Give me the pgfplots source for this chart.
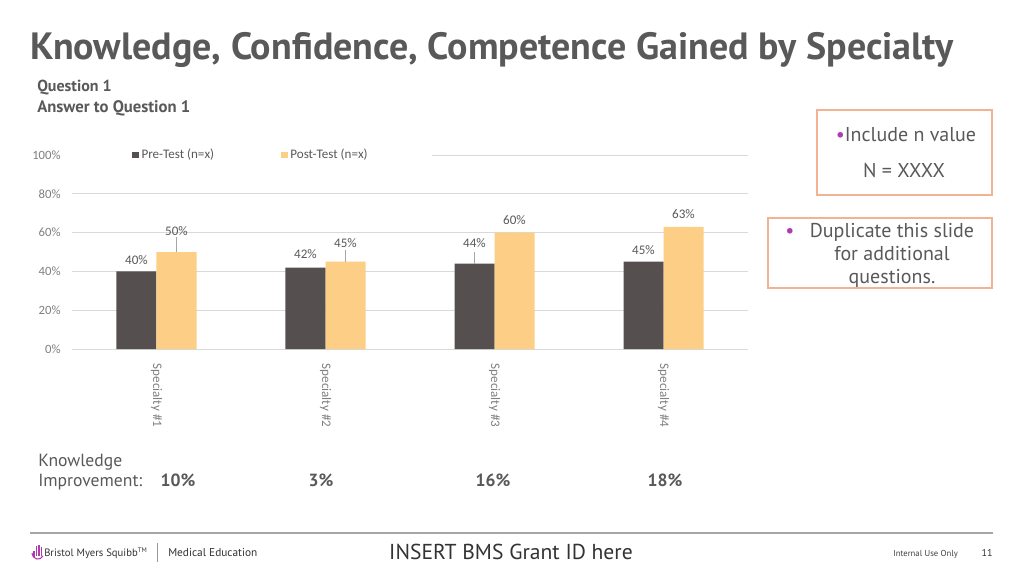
\documentclass[border=0pt]{standalone}
\usepackage{pgfplots}
\pgfplotsset{compat=1.18}
\usepackage{pgfplotstable}
\usepackage{fontspec}
\setmainfont{PT Sans}
\newfontfamily\chartfont{Carlito}
\definecolor{txt}{HTML}{595959}
\definecolor{pre}{HTML}{55504F}
\definecolor{post}{HTML}{FDCE86}
\definecolor{gridc}{HTML}{D9D9D9}
\definecolor{tickc}{HTML}{808080}
\definecolor{boxc}{HTML}{F2B393}
\definecolor{bull}{HTML}{B03AB0}
\definecolor{lead}{HTML}{A6A6A6}

\pgfplotstableread{
x  y   dy    e
0  40  8.25  0
1  42  9.75  0
2  44  15.75 6
3  45  9.0   0
}\pretable
\pgfplotstableread{
x  y   dy    e
0  50  15.75 7.5
1  45  14.25 6
2  60  9.75  0
3  63  9.75  0
}\posttable

% pixel coordinates (x from left, y from top) -> picture coordinates
\def\P(#1,#2){({#1*0.75pt},{(576-#2)*0.75pt})}

\begin{document}
\begin{tikzpicture}
\path[use as bounding box, fill=white] \P(0,0) rectangle \P(1024,576);

% Title and subtitles
\node[anchor=base west, inner sep=0, text=txt, font=\fontsize{28.5}{32}\selectfont\bfseries] at \P(30,60) {Knowledge, Confidence, Competence Gained by Specialty};
\node[anchor=base west, inner sep=0, text=txt, font=\fontsize{12}{15}\selectfont\bfseries] at \P(37,92) {Question 1};
\node[anchor=base west, inner sep=0, text=txt, font=\fontsize{12.5}{15}\selectfont\bfseries] at \P(37,113) {Answer to Question 1};

\begin{axis}[
  at={(54pt,170.25pt)}, anchor=south west,
  scale only axis, width=507pt, height=145.5pt,
  xmin=-0.5, xmax=3.5, ymin=0, ymax=100,
  ybar=0pt, bar width=30pt,
  xtick={0,1,2,3},
  xticklabels={Specialty \#1, Specialty \#2, Specialty \#3, Specialty \#4},
  ytick={0,20,40,60,80,100},
  yticklabel={\pgfmathprintnumber{\tick}\%},
  /pgf/number format/assume math mode=true,
  ymajorgrids, grid style={gridc, line width=0.6pt},
  axis line style={draw=none},
  major tick length=0pt,
  tick style={draw=none},
  yticklabel style={font=\chartfont\fontsize{9.5}{11}\selectfont, text=tickc, xshift=-5pt},
  xticklabel style={font=\chartfont\fontsize{9.8}{11}\selectfont, text=tickc, rotate=-90, anchor=west, xshift=7.5pt},
  legend columns=2,
  legend style={at={(axis description cs:0.265,1)}, anchor=center, draw=none, fill=white,
    font=\chartfont\fontsize{9.8}{11}\selectfont, text=txt, inner xsep=46pt, inner ysep=3pt,
    /tikz/every even column/.append style={column sep=48pt}},
  legend image code/.code={\fill[#1, draw=none] (0pt,-2.6pt) rectangle (5.2pt,2.6pt);},
  nodes near coords={\pgfmathprintnumber{\pgfplotspointmeta}\%},
  point meta=explicit,
  visualization depends on={\thisrow{dy} \as \dy},
  every node near coord/.append style={anchor=center, yshift=\dy pt, font=\chartfont\fontsize{9.8}{11}\selectfont, text=txt},
  error bars/y dir=plus, error bars/y explicit,
  error bars/error mark=none,
  error bars/error bar style={lead, line width=0.5pt},
]
\addplot[fill=pre, draw=none] table[x=x, y=y, meta=y, y error=e] {\pretable};
\addplot[fill=post, draw=none] table[x=x, y=y, meta=y, y error=e] {\posttable};
\legend{Pre-Test (n=x), Post-Test (n=x)}
\end{axis}

% Knowledge improvement row
\node[anchor=base west, inner sep=0, text=txt, font=\fontsize{13.2}{15}\selectfont] at \P(38,466) {Knowledge};
\node[anchor=base west, inner sep=0, text=txt, font=\fontsize{13.2}{15}\selectfont] at \P(38,486) {Improvement:};
\foreach \xx/\vv in {178/10\%, 321/3\%, 493/16\%, 665/18\%}
  \node[anchor=base, inner sep=0, text=txt, font=\fontsize{13.2}{15}\selectfont\bfseries] at \P(\xx,486) {\vv};

% Right boxes
\draw[boxc, line width=1pt] \P(817,110) rectangle \P(992,195);
\node[anchor=base, inner sep=0, text=txt, font=\fontsize{15}{18}\selectfont] at \P(906,142) {\textcolor{bull}{\textbullet}Include n value};
\node[anchor=base, inner sep=0, text=txt, font=\fontsize{15}{18}\selectfont] at \P(904,178) {N = XXXX};
\draw[boxc, line width=1pt] \P(768,218) rectangle \P(992,288);
\node[anchor=base, inner sep=0, text=bull, font=\fontsize{15}{18}\selectfont] at \P(790,237) {\textbullet};
\node[anchor=base, inner sep=0, text=txt, font=\fontsize{15}{18}\selectfont] at \P(892,237) {Duplicate this slide};
\node[anchor=base, inner sep=0, text=txt, font=\fontsize{15}{18}\selectfont] at \P(892,260) {for additional};
\node[anchor=base, inner sep=0, text=txt, font=\fontsize{15}{18}\selectfont] at \P(892,283) {questions.};

% Footer
\draw[gray!70, line width=0.8pt] \P(30,533) -- \P(993,533);
\fill[bull] \P(33,557) rectangle \P(34.5,551);
\fill[bull] \P(35.5,556) rectangle \P(37,546);
\fill[bull] \P(38,556) rectangle \P(39.5,545);
\fill[bull] \P(40.5,556) rectangle \P(42,547);
\draw[bull, line width=0.8pt] \P(32,553) .. controls \P(33,560) and \P(40,561) .. \P(43,556);
\node[anchor=base west, inner sep=0, text=black!80, font=\fontsize{8}{10}\selectfont] at \P(44,556) {Bristol Myers Squibb\textsuperscript{\tiny TM}};
\draw[gray!80, line width=0.6pt] \P(157,543) -- \P(157,562);
\node[anchor=base west, inner sep=0, text=black!80, font=\fontsize{8.5}{10}\selectfont] at \P(168,556) {Medical Education};
\node[anchor=base, inner sep=0, text=black!80, font=\fontsize{16.2}{20}\selectfont] at \P(511,559) {INSERT BMS Grant ID here};
\node[anchor=base west, inner sep=0, text=black!75, font=\fontsize{6.5}{8}\selectfont] at \P(893,556) {Internal Use Only};
\node[anchor=base, inner sep=0, text=black!80, font=\fontsize{7.5}{9}\selectfont] at \P(987,556) {11};
\end{tikzpicture}
\end{document}
